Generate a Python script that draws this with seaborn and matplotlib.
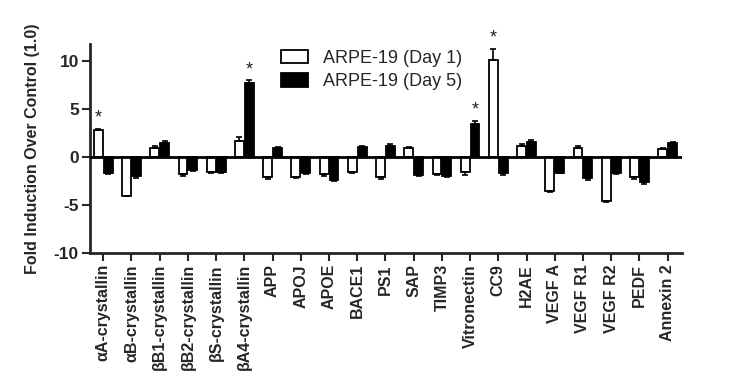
import numpy as np
import pandas as pd
import matplotlib
matplotlib.use("Agg")
import matplotlib.pyplot as plt
import seaborn as sns

genes = ["αA-crystallin", "αB-crystallin", "βB1-crystallin", "βB2-crystallin",
         "βS-crystallin", "βA4-crystallin", "APP", "APOJ", "APOE", "BACE1", "PS1",
         "SAP", "TIMP3", "Vitronectin", "CC9", "H2AE", "VEGF A", "VEGF R1",
         "VEGF R2", "PEDF", "Annexin 2"]
day1 = [2.8, -4.0, 1.0, -1.8, -1.5, 1.7, -2.1, -2.1, -1.8, -1.5, -2.1,
        1.0, -1.8, -1.5, 10.2, 1.2, -3.5, 1.0, -4.6, -2.1, 0.9]
day5 = [-1.6, -2.0, 1.5, -1.3, -1.5, 7.7, 1.0, -1.7, -2.4, 1.1, 1.2,
        -1.9, -2.0, 3.5, -1.7, 1.6, -1.6, -2.2, -1.7, -2.6, 1.5]
err1 = [0.15, 0.1, 0.15, 0.15, 0.1, 0.4, 0.15, 0.1, 0.15, 0.1, 0.2,
        0.1, 0.1, 0.4, 1.1, 0.2, 0.1, 0.2, 0.1, 0.15, 0.1]
err5 = [0.15, 0.15, 0.15, 0.15, 0.1, 0.35, 0.1, 0.1, 0.1, 0.1, 0.2,
        0.1, 0.1, 0.3, 0.15, 0.15, 0.1, 0.15, 0.1, 0.15, 0.1]
series = ["ARPE-19 (Day 1)", "ARPE-19 (Day 5)"]
stars = {"ARPE-19 (Day 1)": ["αA-crystallin", "CC9"],
         "ARPE-19 (Day 5)": ["βA4-crystallin", "Vitronectin"]}

df = pd.DataFrame({
    "gene": genes * 2,
    "series": [series[0]] * len(genes) + [series[1]] * len(genes),
    "value": day1 + day5,
    "err": err1 + err5,
})

sns.set_style("ticks")
plt.rcParams["font.family"] = ["Liberation Sans", "DejaVu Sans"]

fig = plt.figure(figsize=(7.5, 3.91), dpi=100)
ax = fig.add_axes([0.12, 0.353, 0.789, 0.534])

sns.barplot(data=df, x="gene", y="value", hue="series", order=genes,
            hue_order=series, palette=["white", "black"], width=0.7, gap=0.1,
            edgecolor="black", linewidth=1.3, errorbar=None, ax=ax)

# one-sided error bars and significance stars, placed on the drawn bars
for s_i, s in enumerate(series):
    container = ax.containers[s_i]
    sub = df[df["series"] == s].set_index("gene").loc[genes]
    for patch, (g, row) in zip(container.patches, sub.iterrows()):
        xc = patch.get_x() + patch.get_width() / 2
        v, e = row["value"], row["err"]
        sign = 1 if v >= 0 else -1
        ax.errorbar(xc, v, yerr=[[0], [e]] if sign > 0 else [[e], [0]],
                    color="black", lw=1.2, capsize=2.5, capthick=1.2, zorder=3)
        if g in stars[s]:
            ax.text(xc, v + e + 1.1, "*", ha="center", va="center",
                    fontsize=13, color="#222222")

ax.axhline(0, color="black", lw=2, zorder=4)
ax.set_ylim(-10, 11.8)
ax.set_xlim(-0.47, len(genes) - 0.5)
ax.set_yticks([-10, -5, 0, 5, 10])
ax.set_yticklabels(["-10", "-5", "0", "5", "10"], fontsize=12.5, fontweight="bold")
ax.set_xticks(range(len(genes)))
ax.set_xticklabels(genes, rotation=90, fontsize=11.5, fontweight="bold")
ax.tick_params(axis="both", length=6, width=1.5, pad=2)
ax.set_xlabel("")
ax.set_ylabel("Fold Induction Over Control (1.0)", fontsize=11.5,
              fontweight="bold", labelpad=10)
sns.despine(ax=ax)
for sp in ["left", "bottom"]:
    ax.spines[sp].set_linewidth(2)

ax.legend(loc="upper left", bbox_to_anchor=(0.375, 0.872),
          bbox_transform=fig.transFigure, frameon=False, fontsize=13,
          handlelength=1.5, handleheight=0.75, handletextpad=0.8,
          labelspacing=0.35, borderpad=0, borderaxespad=0)

fig.savefig("out.png", dpi=100)
